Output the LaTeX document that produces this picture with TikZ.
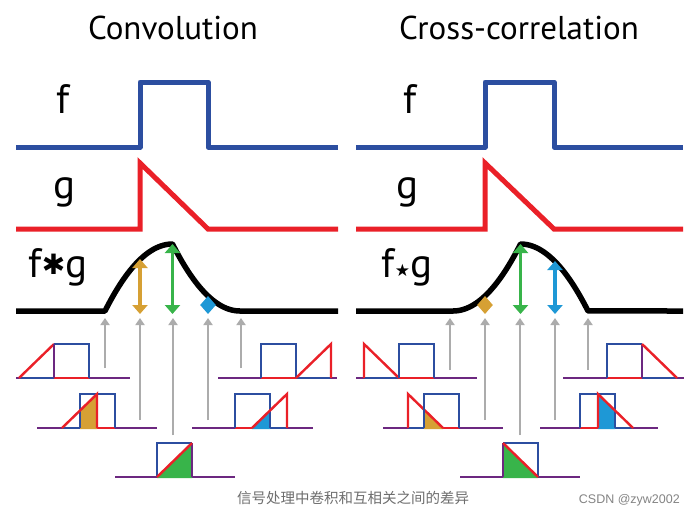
\documentclass[tikz,border=0pt]{standalone}
\usepackage{fontspec}
\setmainfont{PT Sans}
\newfontfamily\CcSym{DejaVu Sans}
\newfontfamily\CcCjk{Noto Sans CJK SC}
\newfontfamily\CcFoot{Liberation Sans}
\usetikzlibrary{arrows.meta}
\definecolor{CcBlue}{RGB}{44,78,160}
\definecolor{CcRed}{RGB}{234,32,40}
\definecolor{CcPurple}{RGB}{108,40,128}
\definecolor{CcGold}{RGB}{214,160,52}
\definecolor{CcGreen}{RGB}{56,180,74}
\definecolor{CcCyan}{RGB}{30,152,214}
\definecolor{CcGray}{RGB}{172,172,172}
\definecolor{CcFootGray}{RGB}{110,110,110}
\tikzset{
  cc/title/.style={font=\fontsize{33}{33}\selectfont, anchor=base, inner sep=0pt},
  cc/label/.style={font=\fontsize{41}{41}\selectfont, anchor=base, inner sep=0pt},
  cc/fline/.style={draw=CcBlue, line width=5pt, line join=round},
  cc/gline/.style={draw=CcRed, line width=5pt, line join=miter},
  cc/curve/.style={draw=black, line width=5.5pt, line join=round},
  cc/dbl/.style={{Triangle[length=9pt,width=15pt]}-{Triangle[length=9pt,width=15pt]}, line width=3.5pt},
  cc/probe/.style={-{Triangle[length=7pt,width=9pt]}, draw=CcGray, line width=2.5pt},
  cc/fbox/.style={draw=CcBlue, line width=2.4pt},
  cc/gtri/.style={draw=CcRed, line width=2.4pt},
  cc/base/.style={draw=CcPurple, line width=2.4pt},
  cc/foot/.style={anchor=base, inner sep=0pt}
}

\begin{document}
\begin{tikzpicture}[x=1pt,y=-1pt]
  \fill[white] (0,0) rectangle (695,512);
  \useasboundingbox (0,0) rectangle (695,512);

  % titles and labels
  \node[cc/title] (conv-title) at (173,39) {Convolution};
  \node[cc/title] (corr-title) at (519,39) {Cross-correlation};
  \node[cc/label] (conv-f) at (63,113) {f};
  \node[cc/label] (conv-g) at (65,198) {g};
  \node[cc/label] (conv-fg) at (58,277) {f\raisebox{3pt}{\CcSym\fontsize{28}{28}\selectfont ✱}g};
  \node[cc/label] (corr-f) at (410,113) {f};
  \node[cc/label] (corr-g) at (408,198) {g};
  \node[cc/label] (corr-fg) at (407,277) {f\raisebox{1pt}{\CcSym\fontsize{17}{17}\selectfont ★}g};

  % f and g
  \draw[cc/fline] (16,147) -- (140,147) -- (140,82) -- (208,82) -- (208,147) -- (338,147);
  \draw[cc/gline] (16,229) -- (140,229) -- (140,163) -- (208,229) -- (338,229);
  \draw[cc/fline] (356,147) -- (485,147) -- (485,82) -- (554,82) -- (554,147) -- (683,147);
  \draw[cc/gline] (356,229) -- (485,229) -- (485,163) -- (554,229) -- (683,229);

  % results
  \draw[cc/curve] (16,311) -- (105,311)
    -- plot[domain=0:1, samples=30] ({105+67.5*\x},{311-67*(2*\x-\x*\x)})
    -- plot[domain=1:2, samples=30] ({105+67.5*\x},{311-67*(2-\x)*(2-\x)})
    -- (338,311);
  \draw[cc/curve] (356,311) -- (453,311)
    -- plot[domain=0:1, samples=30] ({453+67.5*\x},{311-67*\x*\x})
    -- plot[domain=1:2, samples=30] ({453+67.5*\x},{311-67*(2*\x-\x*\x)})
    -- (683,311);

  % values on the curves
  \foreach \n/\x/\y/\c in {cv1/140/259/CcGold,cv2/172.5/244/CcGreen,cv3/208/296/CcCyan,
                           cr1/485/296/CcGold,cr2/520.5/244/CcGreen,cr3/555/261/CcCyan}{
    \coordinate (\n-top) at (\x,\y);
    \coordinate (\n-bot) at (\x,314);
    \draw[cc/dbl, draw=\c, fill=\c] (\n-top) -- (\n-bot);
  }

  % probes up from the overlaps
  \foreach \n/\x/\y in {pv1/105/368,pv2/140/420,pv3/173/435,pv4/208/420,pv5/241/368,
                        pr1/450/370,pr2/485/420,pr3/520/435,pr4/555/420,pr5/588/370}{
    \coordinate (\n-from) at (\x,\y);
    \coordinate (\n-to) at (\x,318);
    \draw[cc/probe] (\n-from) -- (\n-to);
  }

  % convolution overlaps
  \draw[cc/base] (16,378) -- (130,378);
  \draw[cc/fbox] (19,378) -- (54,378);
  \draw[cc/gtri] (54,378) -- (89,378);
  \draw[cc/fbox] (54,344) -- (89,344) -- (89,378);
  \draw[cc/gtri] (19,378) -- (54,344);
  \draw[cc/base] (54,378) -- (54,344);

  \draw[cc/base] (37,428) -- (157,428);
  \draw[cc/fbox] (62,428) -- (80,428);
  \draw[cc/gtri] (97,428) -- (115,428);
  \fill[CcGold] (80,429.2) -- (80,410.5) -- (97,394) -- (97,429.2) -- cycle;
  \draw[cc/fbox] (80,428) -- (80,394) -- (115,394) -- (115,428);
  \draw[cc/gtri] (62,428) -- (97,394) -- (97,428);

  \draw[cc/base] (115,477) -- (235,477);
  \fill[CcGreen] (157,478.2) -- (157,477) -- (192,443) -- (192,478.2) -- cycle;
  \draw[cc/fbox] (157,477) -- (157,443) -- (192,443);
  \draw[cc/base] (192,443) -- (192,477);
  \draw[cc/gtri] (157,477) -- (192,443);

  \draw[cc/base] (192,428) -- (313,428);
  \draw[cc/gtri] (235,428) -- (252,428);
  \draw[cc/fbox] (270,428) -- (287,428);
  \fill[CcCyan] (252,429.2) -- (252,428) -- (270,410.5) -- (270,429.2) -- cycle;
  \draw[cc/fbox] (235,428) -- (235,394) -- (270,394) -- (270,428);
  \draw[cc/gtri] (252,428) -- (287,394) -- (287,428);

  \draw[cc/base] (218,378) -- (337,378);
  \draw[cc/gtri] (261,378) -- (296,378);
  \draw[cc/fbox] (296,378) -- (331,378);
  \draw[cc/fbox] (261,378) -- (261,344) -- (296,344) -- (296,378);
  \draw[cc/gtri] (296,378) -- (331,344) -- (331,378);

  % cross-correlation overlaps
  \draw[cc/base] (356,378) -- (477,378);
  \draw[cc/fbox] (364,378) -- (399,378);
  \draw[cc/gtri] (399,378) -- (434,378);
  \draw[cc/gtri] (364,378) -- (364,344) -- (399,378);
  \draw[cc/fbox] (399,378) -- (399,344) -- (434,344) -- (434,378);

  \draw[cc/base] (383,428) -- (503,428);
  \draw[cc/fbox] (408,428) -- (424,428);
  \draw[cc/gtri] (443,428) -- (459,428);
  \fill[CcGold] (424,429.2) -- (424,409.5) -- (443,428) -- (443,429.2) -- cycle;
  \draw[cc/gtri] (408,428) -- (408,394) -- (443,428);
  \draw[cc/fbox] (424,428) -- (424,394) -- (459,394) -- (459,428);

  \draw[cc/base] (460,477) -- (580,477);
  \fill[CcGreen] (503,478.2) -- (503,443) -- (538,477) -- (538,478.2) -- cycle;
  \draw[cc/fbox] (503,443) -- (538,443) -- (538,477);
  \draw[cc/base] (503,477) -- (503,443);
  \draw[cc/gtri] (503,443) -- (538,477);

  \draw[cc/base] (540,428) -- (658,428);
  \draw[cc/gtri] (580,428) -- (598,428);
  \draw[cc/fbox] (615,428) -- (633,428);
  \fill[CcCyan] (598,429.2) -- (598,394) -- (615,410.5) -- (615,429.2) -- cycle;
  \draw[cc/fbox] (580,428) -- (580,394) -- (615,394) -- (615,428);
  \draw[cc/gtri] (598,428) -- (598,394) -- (633,428);

  \draw[cc/base] (563,378) -- (684,378);
  \draw[cc/gtri] (607,378) -- (642,378);
  \draw[cc/fbox] (642,378) -- (677,378);
  \draw[cc/fbox] (607,378) -- (607,344) -- (642,344);
  \draw[cc/base] (642,344) -- (642,378);
  \draw[cc/gtri] (642,344) -- (677,378);

  % footer
  \node[cc/foot, text=CcFootGray] (caption) at (353,503) {\CcCjk\fontsize{14.5}{14.5}\selectfont 信号处理中卷积和互相关之间的差异};
  \node[cc/foot, anchor=base east, text=CcFootGray!85] (credit) at (680,503) {\CcFoot\fontsize{12.5}{12.5}\selectfont CSDN @zyw2002};
\end{tikzpicture}
\end{document}
